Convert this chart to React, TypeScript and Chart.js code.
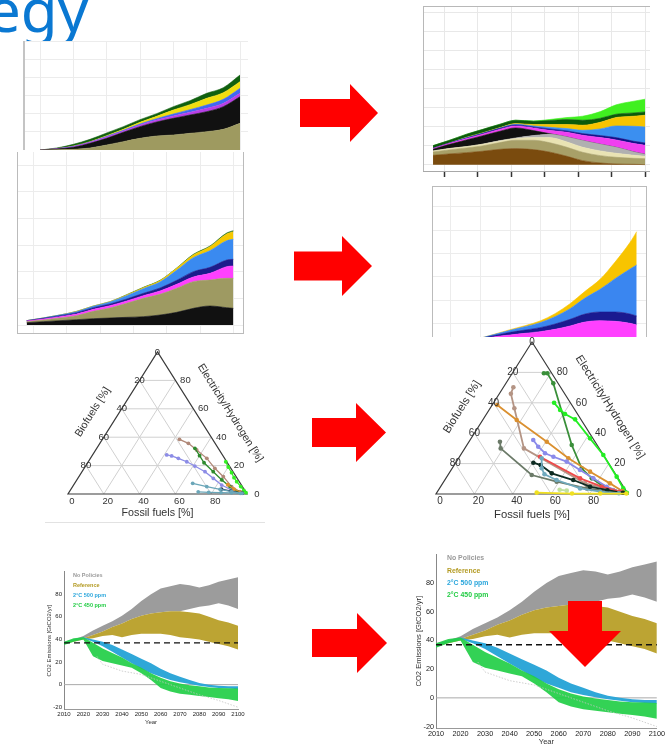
import React, { useEffect, useRef } from "react";
import { Chart, registerables } from "chart.js";

Chart.register(...registerables);

const FONT = '"Liberation Sans", Arial, Helvetica, sans-serif';

// ---------------- Panel A (top-left stacked area) ----------------
const aSteps = [0, 1, 2, 3, 4, 5, 6, 7, 8, 9, 10, 11, 12];
const aOlive = [0, 1, 2, 6, 15, 25, 35, 42, 45, 50, 55, 62, 80];
const aBlack = [0, 2, 6, 14, 20, 28, 35, 42, 50, 55, 60, 68, 80];
const aMagenta = [0, 1, 2, 3, 4, 4, 5, 6, 7, 8, 10, 10, 10];
const aBlue = [0, 0, 1, 1, 2, 2, 3, 4, 6, 8, 10, 12, 15];
const aYellow = [0, 0, 1, 1, 2, 3, 5, 7, 12, 15, 20, 20, 20];
const aGreen = [0, 2, 5, 7, 8, 8, 8, 8, 10, 12, 15, 15, 20];

// ---------------- Panel B (top-right stacked area) ----------------
const bYears = [2005, 2012, 2020, 2027, 2035, 2042, 2050, 2057, 2065, 2072, 2080, 2087, 2095, 2100];
const bBrown = [28, 32, 36, 40, 46, 48, 45, 38, 25, 12, 5, 2, 1, 0];
const bOlive = [10, 12, 14, 16, 20, 25, 28, 28, 27, 25, 22, 20, 18, 18];
const bCream = [3, 4, 4, 5, 5, 5, 8, 15, 16, 15, 14, 12, 9, 7];
const bGrey = [0, 0, 0, 0, 1, 2, 6, 10, 15, 20, 20, 18, 10, 6];
const bBlack = [5, 12, 20, 25, 28, 30, 15, 2, 0, 0, 0, 0, 0, 0];
const bMagenta = [2, 3, 4, 5, 6, 6, 8, 10, 14, 16, 20, 22, 25, 27];
const bNavy = [1, 1, 2, 2, 3, 3, 3, 4, 4, 5, 6, 7, 7, 7];
const bBlue = [0, 0, 1, 1, 1, 2, 3, 5, 7, 10, 20, 35, 45, 48];
const bYellow = [0, 0, 1, 1, 1, 2, 4, 8, 12, 15, 20, 25, 30, 35];
const bDarkGreen = [8, 8, 9, 10, 10, 10, 10, 12, 15, 15, 12, 10, 10, 10];
const bLime = [0, 0, 0, 0, 0, 0, 1, 3, 6, 12, 20, 28, 35, 38];

// ---------------- Panel C (middle-left stacked area) ----------------
const cSteps = [0.8, 1.3, 1.8, 2.3, 2.8, 3.3, 3.8, 4.3, 4.8, 5.3, 5.8, 6.3, 6.8, 7.0];
const cBlack = [7, 10, 13, 16, 19, 21, 23, 25, 30, 38, 50, 57, 52, 50];
const cOlive = [3, 5, 8, 12, 22, 30, 42, 55, 62, 72, 80, 78, 88, 90];
const cMagenta = [2, 3, 4, 5, 6, 7, 7, 8, 10, 12, 14, 20, 35, 37];
const cNavy = [1, 2, 3, 4, 5, 5, 6, 7, 9, 12, 16, 18, 20, 20];
const cBlue = [0, 1, 2, 3, 4, 6, 10, 14, 18, 30, 42, 50, 58, 60];
const cYellow = [0, 0, 0, 1, 1, 1, 2, 3, 4, 6, 8, 12, 20, 23];
const cGreen = [0, 0, 0, 0, 0, 0, 1, 1, 1, 1, 2, 2, 3, 3];

// ---------------- Panel D (middle-right stacked area) ----------------
const dSteps = [1.5, 2, 2.5, 3, 3.5, 4, 4.5, 5, 5.5, 6, 6.5, 7, 7.22];
const dMagenta = [10, 22, 30, 35, 40, 45, 52, 62, 74, 78, 76, 70, 65];
const dNavy = [0, 2, 4, 8, 10, 12, 16, 20, 24, 26, 28, 28, 27];
const dBlue = [0, 1, 3, 6, 10, 15, 22, 32, 48, 68, 100, 135, 153];
const dYellow = [0, 0, 1, 2, 3, 5, 9, 15, 20, 30, 50, 80, 100];

// ---------------- Ternary plots ----------------
const ternaryTicks = [0, 20, 40, 60, 80];
const ternaryTitles = { fossil: "Fossil fuels [%]", bio: "Biofuels [%]", elec: "Electricity/Hydrogen [%]" };

// left ternary (fossil %, electricity %)
const lLimeF = [76.8, 80, 83.9, 87, 89.9, 93.9, 97, 99];
const lLimeE = [22.7, 19, 15, 11.5, 8.7, 5.2, 2.5, 0.9];
const lBrownF = [43, 49.4, 56.4, 65, 73, 80.7, 88.8, 95.3];
const lBrownE = [38.5, 35.7, 31, 25.1, 18.1, 12.2, 5.2, 1.6];
const lDkGreenF = [54.8, 60, 65, 73.3, 81, 87.9, 94];
const lDkGreenE = [32.2, 27, 22, 15.7, 9.9, 5.2, 1.5];
const lPurpleF = [41.4, 44.5, 49.1, 55, 61, 68.7, 75.7, 82.7, 90, 96.6];
const lPurpleE = [27.5, 26.8, 25.1, 22.7, 19.7, 15.7, 11, 6.3, 2.8, 0.9];
const lTealF = [65.9, 74.9, 83.3, 90.6, 97];
const lTealE = [7.5, 5.2, 3.3, 1.6, 0.5];
const lTeal2F = [72, 78, 85, 91, 96];
const lTeal2E = [1.5, 1.2, 1, 0.8, 0.5];
const lOrangeF = [86, 91, 96];
const lOrangeE = [6.5, 3.5, 1.2];
const lNavyF = [84, 90, 97];
const lNavyE = [3.5, 2, 0.6];

// right ternary
const rDkGreenF = [16.5, 18.3, 24.7, 54.6, 67.4, 76, 84.8, 95];
const rDkGreenE = [79.4, 79.4, 72.8, 32.2, 16.9, 10.3, 4.8, 1.5];
const rLimeF = [31.5, 37, 40.9, 47.9, 61.9, 74.3, 88.4, 95.7, 99];
const rLimeE = [60, 55.3, 52.6, 49.1, 36.6, 25.7, 11.4, 3.7, 0.8];
const rRosyF = [5.2, 6, 12.6, 30.8, 74.1, 91, 97];
const rRosyE = [70.2, 66, 56.4, 30, 7, 2.6, 1];
const rOrangeF = [2.6, 17.7, 40.5, 57.2, 72.9, 87.1, 96];
const rOrangeE = [58.6, 48.7, 34.4, 23.5, 14.7, 7, 2];
const rOliveF = [16.1, 18.7, 43.6, 58.8, 76.7, 90];
const rOliveE = [34.4, 30, 12.5, 8.1, 3.7, 1.5];
const rLavF = [32.9, 37.7, 43.4, 48.9, 57.4, 67.1, 76.8, 86.5, 95];
const rLavE = [35.5, 31.1, 26.8, 24.5, 21.3, 15.8, 10.3, 4.8, 1.5];
const rRedF = [41.9, 69.9, 83.9, 95];
const rRedE = [24.5, 10.3, 4.8, 1.5];
const rDarkF = [40.4, 45, 53.5, 66.9, 77.8, 88, 97];
const rDarkE = [20.6, 19, 13.6, 9.2, 4.8, 2.5, 0.8];
const rTealF = [43.3, 46.6, 50, 58.2, 73.2, 84.7, 95];
const rTealE = [23.5, 16.9, 13, 9.2, 3.7, 1.5, 0.5];
const rYellowF = [52, 70.7, 85.4, 99];
const rYellowE = [0.9, 0.3, 0.3, 0.3];
const rLightF = [63, 67];
const rLightE = [2.8, 2.2];

// ---------------- CO2 emission pathways ----------------
const emYears = [2010, 2015, 2020, 2025, 2030, 2035, 2040, 2045, 2050, 2055, 2060, 2065, 2070, 2075, 2080, 2085, 2090, 2095, 2100];
const noPolicyHigh = [38, 40, 43, 48, 52, 56, 61, 67, 74, 80, 85, 87, 89, 88, 86, 88, 91, 93, 95];
const noPolicyLow = [37, 39, 41, 44, 47, 51, 54, 58, 61, 63, 64, 65, 65, 67, 69, 70, 72, 70, 67];
const refHigh = [37, 39, 41, 44, 47, 51, 54, 58, 61, 63, 64, 65, 65, 64, 63, 60, 57, 55, 52];
const refLow = [36, 38, 40, 41, 43, 44, 42, 44, 45, 45, 45, 44, 42, 41, 40, 38, 36, 34, 31];
const p500High = [37, 40, 42, 40, 38, 35, 31, 27, 23, 19, 14, 10, 7, 4, 1.5, 0, -1, -1.5, -1.5];
const p500Low = [36, 39, 41, 38, 34, 29, 24, 19, 14, 10, 7, 4, 2, 0.5, -1, -2, -3, -3.5, -4];
const p450High = [38, 41, 42, 37, 32, 28, 24, 19, 15, 10, 6, 3, 1, -0.5, -1.5, -2.5, -3, -3.2, -3.5];
const p450Low = [35, 38, 40, 25, 21, 19, 17, 15, 10, 4, -3, -6, -8, -9, -10, -11, -12, -13, -14.5];
const lowestYears = [2027, 2030, 2040, 2050, 2060, 2070, 2080, 2090, 2100];
const lowestValues = [25, 18, 12, 9, 3, -3, -9, -14, -20];
const currentLevel = 37;
const zeroLevel = 0;
const emXTicks = [2010, 2020, 2030, 2040, 2050, 2060, 2070, 2080, 2090, 2100];
const emYTicks = [-20, 0, 20, 40, 60, 80];
const emLegend = [
  { text: "No Policies", color: "#9a9a9a" },
  { text: "Reference", color: "#b39a22" },
  { text: "2°C 500 ppm", color: "#2aa6dc" },
  { text: "2°C 450 ppm", color: "#22cc44" },
];

type Layer = { values: number[]; color: string };

function StackedArea(props: any) {
  const ref = useRef<HTMLCanvasElement>(null);
  useEffect(() => {
    const p = props;
    const chart = new Chart(ref.current!, {
      type: "line",
      data: {
        datasets: p.layers.map((l: Layer, i: number) => ({
          data: p.xs.map((x: number, j: number) => ({ x, y: l.values[j] })),
          backgroundColor: l.color,
          borderColor: l.color,
          borderWidth: 0.6,
          pointRadius: 0,
          fill: i === 0 ? "origin" : "-1",
          cubicInterpolationMode: "monotone",
        })),
      },
      options: {
        animation: false,
        responsive: false,
        events: [],
        plugins: { legend: { display: false }, tooltip: { enabled: false } },
        layout: { padding: 0 },
        scales: {
          x: {
            type: "linear",
            min: p.xMin,
            max: p.xMax,
            ticks: { display: false, stepSize: p.xStep, includeBounds: false },
            grid: { color: p.gridColor, drawTicks: !!p.tickMarks, tickLength: 6, tickColor: "#333", tickWidth: 1.5 },
            border: { display: !!p.tickMarks, color: "#a8a8a8", width: 1 },
            afterFit: (s: any) => { s.height = p.tickMarks ? 8 : 0; },
          },
          y: {
            type: "linear",
            stacked: true,
            min: p.yMin,
            max: p.yMax,
            ticks: { display: false, stepSize: p.yStep, includeBounds: false },
            grid: { color: p.gridColor, drawTicks: false },
            border: { display: false },
            afterFit: (s: any) => { s.width = 0; },
          },
        },
      },
    } as any);
    return () => chart.destroy();
  }, []);
  return (
    <canvas
      ref={ref}
      width={props.w}
      height={props.h}
      style={{ position: "absolute", left: props.x, top: props.y, width: props.w, height: props.h, display: "block" }}
    />
  );
}

type TSeries = { F: number[]; E: number[]; color: string };
const H3 = Math.sqrt(3) / 2;

function Ternary(props: any) {
  const ref = useRef<HTMLCanvasElement>(null);
  useEffect(() => {
    const p = props;
    const frame = {
      id: "ternaryFrame",
      beforeDatasetsDraw(chart: any) {
        const { ctx } = chart;
        const sx = chart.scales.x, sy = chart.scales.y;
        const P = (F: number, E: number) => [sx.getPixelForValue(F + E / 2), sy.getPixelForValue(E * H3)];
        const seg = (a: number[], b: number[]) => {
          ctx.beginPath(); ctx.moveTo(a[0], a[1]); ctx.lineTo(b[0], b[1]); ctx.stroke();
        };
        ctx.save();
        ctx.lineWidth = 1;
        ctx.strokeStyle = "#d0d0d0";
        for (const k of ternaryTicks) {
          if (k === 0) continue;
          seg(P(k, 0), P(k, 100 - k));
          seg(P(0, k), P(100 - k, k));
          seg(P(100 - k, 0), P(0, 100 - k));
        }
        ctx.strokeStyle = "#3a3a3a";
        ctx.lineWidth = 1.2;
        const a = P(0, 0), b = P(100, 0), c = P(0, 100);
        ctx.beginPath(); ctx.moveTo(a[0], a[1]); ctx.lineTo(b[0], b[1]); ctx.lineTo(c[0], c[1]); ctx.closePath(); ctx.stroke();
        ctx.restore();
      },
      afterDatasetsDraw(chart: any) {
        const { ctx } = chart;
        const sx = chart.scales.x, sy = chart.scales.y;
        const P = (F: number, E: number) => [sx.getPixelForValue(F + E / 2), sy.getPixelForValue(E * H3)];
        ctx.save();
        ctx.fillStyle = "#333";
        ctx.textAlign = "center";
        ctx.textBaseline = "middle";
        ctx.font = `${p.tickSize}px ${FONT}`;
        for (const k of ternaryTicks) {
          const l = P(0, 100 - k);
          ctx.fillText(String(k), l[0], l[1]);
          const r = P(100 - k, k);
          ctx.fillText(String(k), r[0] + p.rightDx, r[1]);
          const bt = P(k, 0);
          ctx.fillText(String(k), bt[0] + p.baseDx, bt[1] + p.baseDy);
        }
        ctx.font = `${p.titleSize}px ${FONT}`;
        const A = P(0, 100), BL = P(0, 0), BR = P(100, 0);
        ctx.fillText(ternaryTitles.fossil, (BL[0] + BR[0]) / 2, BL[1] + p.fossilDy);
        const angL = Math.atan2(A[1] - BL[1], A[0] - BL[0]);
        ctx.save();
        ctx.translate((A[0] + BL[0]) / 2 + p.bioOff[0], (A[1] + BL[1]) / 2 + p.bioOff[1]);
        ctx.rotate(angL);
        ctx.fillText(ternaryTitles.bio, 0, 0);
        ctx.restore();
        const angR = Math.atan2(BR[1] - A[1], BR[0] - A[0]);
        ctx.save();
        ctx.translate((A[0] + BR[0]) / 2 + p.elecOff[0], (A[1] + BR[1]) / 2 + p.elecOff[1]);
        ctx.rotate(angR);
        ctx.fillText(ternaryTitles.elec, 0, 0);
        ctx.restore();
        ctx.restore();
      },
    };
    const chart = new Chart(ref.current!, {
      type: "scatter",
      data: {
        datasets: p.series.map((s: TSeries) => ({
          data: s.F.map((f, i) => ({ x: f + s.E[i] / 2, y: s.E[i] * H3 })),
          showLine: true,
          borderColor: s.color,
          backgroundColor: s.color,
          pointBackgroundColor: s.color,
          pointBorderWidth: 0,
          pointRadius: p.radius,
          borderWidth: p.lineWidth,
          clip: false,
        })),
      },
      options: {
        animation: false,
        responsive: false,
        events: [],
        layout: { padding: p.pad },
        plugins: { legend: { display: false }, tooltip: { enabled: false } },
        scales: {
          x: { type: "linear", display: false, min: 0, max: 100 },
          y: { type: "linear", display: false, min: 0, max: 100 * H3 },
        },
      },
      plugins: [frame],
    } as any);
    return () => chart.destroy();
  }, []);
  return (
    <canvas
      ref={ref}
      width={props.w}
      height={props.h}
      style={{ position: "absolute", left: props.x, top: props.y, width: props.w, height: props.h, display: "block" }}
    />
  );
}

function Emissions(props: any) {
  const ref = useRef<HTMLCanvasElement>(null);
  useEffect(() => {
    const p = props;
    const pts = (vals: number[]) => emYears.map((yr, i) => ({ x: yr, y: vals[i] }));
    const band = (hi: number[], lo: number[], color: string) => [
      { data: pts(hi), borderWidth: 0, borderColor: "transparent", pointRadius: 0, fill: "+1", backgroundColor: color },
      { data: pts(lo), borderWidth: 0, borderColor: "transparent", pointRadius: 0, fill: false },
    ];
    const legend = {
      id: "bandLegend",
      afterDatasetsDraw(chart: any) {
        const { ctx, chartArea } = chart;
        ctx.save();
        ctx.font = `bold ${p.legendSize}px ${FONT}`;
        ctx.textBaseline = "middle";
        ctx.textAlign = "left";
        emLegend.forEach((it, i) => {
          ctx.fillStyle = it.color;
          ctx.fillText(it.text, chartArea.left + p.legendDx, chartArea.top + p.legendDy + i * p.legendGap);
        });
        ctx.restore();
      },
    };
    const chart = new Chart(ref.current!, {
      type: "line",
      data: {
        datasets: [
          {
            data: [{ x: emXTicks[0], y: currentLevel }, { x: emXTicks[emXTicks.length - 1], y: currentLevel }],
            borderColor: "#111", borderWidth: p.dashWidth, borderDash: [6, 4], pointRadius: 0, fill: false,
          },
          {
            data: lowestYears.map((yr, i) => ({ x: yr, y: lowestValues[i] })),
            borderColor: "#c4c4c4", borderWidth: 0.8, borderDash: [1.5, 1.5], pointRadius: 0, fill: false,
          },
          ...band(p450High, p450Low, "rgba(34,206,70,0.92)"),
          ...band(p500High, p500Low, "#2fa7d8"),
          ...band(refHigh, refLow, "#bca433"),
          ...band(noPolicyHigh, noPolicyLow, "#9c9c9c"),
          {
            data: [{ x: emXTicks[0], y: zeroLevel }, { x: emXTicks[emXTicks.length - 1], y: zeroLevel }],
            borderColor: "#aaa", borderWidth: 1, pointRadius: 0, fill: false,
          },
        ],
      },
      options: {
        animation: false,
        responsive: false,
        events: [],
        layout: { padding: p.pad },
        plugins: { legend: { display: false }, tooltip: { enabled: false } },
        scales: {
          x: {
            type: "linear",
            min: emXTicks[0],
            max: emXTicks[emXTicks.length - 1],
            afterBuildTicks: (s: any) => { s.ticks = emXTicks.map((v) => ({ value: v })); },
            ticks: {
              font: { size: p.tickSize, family: FONT }, color: "#222", padding: p.tickPad,
              autoSkip: false, maxRotation: 0, minRotation: 0,
              callback: (v: any) => String(v),
            },
            grid: { display: false, drawTicks: false },
            border: { display: true, color: "#999", width: 1 },
            title: { display: true, text: "Year", font: { size: p.titleSize, family: FONT }, color: "#333", padding: 0 },
            afterFit: (s: any) => { s.height = p.xAxisH; },
          },
          y: {
            type: "linear",
            min: p.yMin,
            max: p.yMax,
            afterBuildTicks: (s: any) => { s.ticks = emYTicks.map((v) => ({ value: v })); },
            ticks: { font: { size: p.tickSize, family: FONT }, color: "#222", padding: 2, callback: (v: any) => String(v) },
            grid: { display: false, drawTicks: false },
            border: { display: true, color: "#888", width: 1 },
            title: { display: true, text: "CO2 Emissions [GtCO2/yr]", font: { size: p.titleSize, family: FONT }, color: "#333", padding: 0 },
            afterFit: (s: any) => { s.width = p.yAxisW; },
          },
        },
      },
      plugins: [legend],
    } as any);
    return () => chart.destroy();
  }, []);
  return (
    <canvas
      ref={ref}
      width={props.w}
      height={props.h}
      style={{ position: "absolute", left: props.x, top: props.y, width: props.w, height: props.h, display: "block" }}
    />
  );
}

function RightArrow({ x, y, w, h, shaft, head }: any) {
  const t = (h - shaft) / 2, b = (h + shaft) / 2, hx = w - head;
  const pts = `0,${t} ${hx},${t} ${hx},0 ${w},${h / 2} ${hx},${h} ${hx},${b} 0,${b}`;
  return (
    <svg style={{ position: "absolute", left: x, top: y }} width={w} height={h}>
      <polygon points={pts} fill="#ff0000" />
    </svg>
  );
}

function DownArrow({ x, y, w, h, shaft, head }: any) {
  const l = (w - shaft) / 2, r = (w + shaft) / 2, hy = h - head;
  const pts = `${l},0 ${r},0 ${r},${hy} ${w},${hy} ${w / 2},${h} 0,${hy} ${l},${hy}`;
  return (
    <svg style={{ position: "absolute", left: x, top: y }} width={w} height={h}>
      <polygon points={pts} fill="#ff0000" />
    </svg>
  );
}

function Line({ x, y, w, h, color }: any) {
  return <div style={{ position: "absolute", left: x, top: y, width: w, height: h, background: color }} />;
}

export default function App() {
  const layersA: Layer[] = [
    { values: aOlive, color: "#9e9a60" },
    { values: aBlack, color: "#111111" },
    { values: aMagenta, color: "#b840e6" },
    { values: aBlue, color: "#3f6af0" },
    { values: aYellow, color: "#f0de10" },
    { values: aGreen, color: "#10600f" },
  ];
  const layersB: Layer[] = [
    { values: bBrown, color: "#7a4b0e" },
    { values: bOlive, color: "#a8a068" },
    { values: bCream, color: "#e9e3b3" },
    { values: bGrey, color: "#b0b0b0" },
    { values: bBlack, color: "#111111" },
    { values: bMagenta, color: "#f040f0" },
    { values: bNavy, color: "#12128a" },
    { values: bBlue, color: "#3b8ff0" },
    { values: bYellow, color: "#f7c400" },
    { values: bDarkGreen, color: "#0b5a0b" },
    { values: bLime, color: "#40f020" },
  ];
  const layersC: Layer[] = [
    { values: cBlack, color: "#111111" },
    { values: cOlive, color: "#9e9a62" },
    { values: cMagenta, color: "#ff40ff" },
    { values: cNavy, color: "#1c1c8c" },
    { values: cBlue, color: "#3a8af0" },
    { values: cYellow, color: "#f5c800" },
    { values: cGreen, color: "#207020" },
  ];
  const layersD: Layer[] = [
    { values: dMagenta, color: "#ff40ff" },
    { values: dNavy, color: "#1a1a90" },
    { values: dBlue, color: "#3a86f0" },
    { values: dYellow, color: "#f8c400" },
  ];
  const leftSeries: TSeries[] = [
    { F: lTealF, E: lTealE, color: "#6aa6b8" },
    { F: lTeal2F, E: lTeal2E, color: "#6aa6b8" },
    { F: lNavyF, E: lNavyE, color: "#223355" },
    { F: lOrangeF, E: lOrangeE, color: "#e09030" },
    { F: lLimeF, E: lLimeE, color: "#33ee22" },
    { F: lDkGreenF, E: lDkGreenE, color: "#2e8b2e" },
    { F: lPurpleF, E: lPurpleE, color: "#8c8ce6" },
    { F: lBrownF, E: lBrownE, color: "#b08878" },
  ];
  const rightSeries: TSeries[] = [
    { F: rYellowF, E: rYellowE, color: "#f0e020" },
    { F: rTealF, E: rTealE, color: "#6fa9bd" },
    { F: rDarkF, E: rDarkE, color: "#0d2b22" },
    { F: rRedF, E: rRedE, color: "#ee4b4b" },
    { F: rLavF, E: rLavE, color: "#8a8aea" },
    { F: rLightF, E: rLightE, color: "#c0e0a0" },
    { F: rOliveF, E: rOliveE, color: "#6b7a68" },
    { F: rOrangeF, E: rOrangeE, color: "#da9030" },
    { F: rRosyF, E: rRosyE, color: "#b49484" },
    { F: rLimeF, E: rLimeE, color: "#22ee22" },
    { F: rDkGreenF, E: rDkGreenE, color: "#3a8f3a" },
  ];

  return (
    <div style={{ position: "fixed", left: 0, top: 0, width: 665, height: 745, overflow: "hidden", background: "#fff" }}>
      <div
        style={{
          position: "absolute", left: -13, top: -21, fontFamily: '"Noto Sans", "Open Sans", sans-serif',
          fontSize: 60, lineHeight: "60px", color: "#0a78d2", whiteSpace: "nowrap",
        }}
      >
        egy
      </div>

      {/* Panel A */}
      <div style={{ position: "absolute", left: 23, top: 41, width: 225, height: 111, background: "#fff" }} />
      <StackedArea x={23} y={41} w={225} h={109} xs={aSteps} layers={layersA}
        xMin={-1.02} xMax={12.48} xStep={2} yMin={0} yMax={327} yStep={55} gridColor="#ececec" />
      <Line x={23} y={41} w={2} h={109} color="#c4c4c4" />

      {/* Panel B */}
      <StackedArea x={423} y={6} w={227} h={173} xs={bYears} layers={layersB}
        xMin={2000.5} xMax={2102.2} xStep={15} yMin={-19} yMax={475} yStep={57} gridColor="#e8e8e8" tickMarks />
      <Line x={423} y={6} w={227} h={1} color="#b8b8b8" />
      <Line x={423} y={6} w={1} h={165} color="#b8b8b8" />

      {/* Panel C */}
      <div style={{ position: "absolute", left: 17, top: 152, width: 227, height: 181, background: "#fff" }} />
      <StackedArea x={17} y={152} w={226} h={181} xs={cSteps} layers={layersC}
        xMin={0.51} xMax={7.29} xStep={1} yMin={-24} yMax={519} yStep={80} gridColor="#ececec" />
      <Line x={17} y={152} w={1} h={181} color="#bbbbbb" />
      <Line x={243} y={152} w={1} h={182} color="#bbbbbb" />
      <Line x={17} y={333} w={227} h={1} color="#bbbbbb" />

      {/* Panel D */}
      <StackedArea x={432} y={186} w={214} h={151} xs={dSteps} layers={layersD}
        xMin={0.4} xMax={7.53} xStep={1} yMin={29} yMax={482} yStep={70} gridColor="#ececec" />
      <Line x={432} y={186} w={215} h={1} color="#bbbbbb" />
      <Line x={432} y={186} w={1} h={151} color="#bbbbbb" />
      <Line x={646} y={186} w={1} h={151} color="#bbbbbb" />

      {/* Ternary plots */}
      <Ternary x={50} y={340} w={230} h={185} pad={{ left: 18, right: 33, top: 12, bottom: 31 }}
        series={leftSeries} tickSize={9.5} titleSize={10.7} radius={1.9} lineWidth={1.3}
        rightDx={10} baseDx={4} baseDy={7} bioOff={[-20, -11]} elecOff={[28, -10]} fossilDy={19} />
      <Line x={45} y={522} w={220} h={1} color="#e2e2e2" />
      <Ternary x={405} y={335} w={260} h={193} pad={{ left: 31, right: 37, top: 7, bottom: 34 }}
        series={rightSeries} tickSize={10} titleSize={11.3} radius={2.3} lineWidth={1.8}
        rightDx={11} baseDx={4} baseDy={7} bioOff={[-22, -11]} elecOff={[30, -11]} fossilDy={21} />

      {/* Emissions */}
      <Emissions x={20} y={566} w={228} h={160} pad={{ left: 26, right: 10, top: 5.5, bottom: 0 }}
        yMin={-22} yMax={100} yAxisW={18} xAxisH={16.5} tickSize={6} titleSize={6} tickPad={1}
        legendSize={5.5} legendDx={9} legendDy={3.5} legendGap={10} dashWidth={1.2} />
      <Emissions x={395} y={548} w={272} h={198} pad={{ left: 19, right: 10, top: 5, bottom: 0 }}
        yMin={-21} yMax={100} yAxisW={22} xAxisH={18} tickSize={7.3} titleSize={7.6} tickPad={2}
        legendSize={6.9} legendDx={11} legendDy={4} legendGap={12.3} dashWidth={1.5} />

      {/* Arrows */}
      <RightArrow x={300} y={84} w={78} h={58} shaft={28} head={28} />
      <RightArrow x={294} y={236} w={78} h={60} shaft={29} head={30} />
      <RightArrow x={312} y={403} w={74} h={59} shaft={29} head={30} />
      <RightArrow x={312} y={613} w={75} h={60} shaft={28} head={30} />
      <DownArrow x={549} y={601} w={72} h={66} shaft={34} head={36} />
    </div>
  );
}
